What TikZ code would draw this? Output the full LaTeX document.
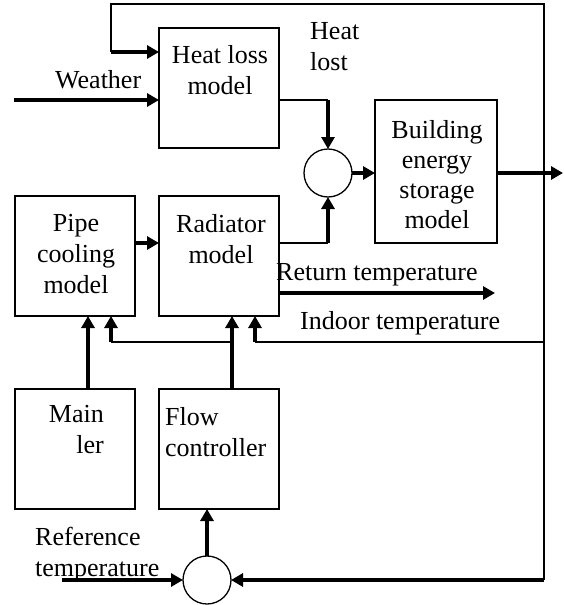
\documentclass[tikz,border=0pt]{standalone}
\usepackage{fontspec}
\setmainfont{Liberation Serif}
\usetikzlibrary{arrows.meta}

\tikzset{
  blk/.style={draw,line width=1.3pt,minimum width=120pt,minimum height=120pt,inner sep=0pt,outer sep=0pt},
  sum/.style={draw,circle,line width=1.3pt,minimum size=48pt,inner sep=0pt,outer sep=0pt},
  txt/.style={inner sep=0pt,font=\fontsize{26}{31}\selectfont},
  wire/.style={line width=1.3pt},
  sig/.style={line width=4pt,-{Triangle[length=12pt,width=13pt]}},
}

\begin{document}
\begin{tikzpicture}[x=1pt,y=-1pt]
  \useasboundingbox (0,0) rectangle (563,605);
  % Blocks, placed at their centres.
  \node[blk] (heat) at (219,88) {};
  \node[blk] (pipe) at (75,256) {};
  \node[blk] (rad) at (219,256) {};
  \node[blk,minimum width=122pt,minimum height=143pt] (bld) at (436,171.5) {};
  \node[blk] (main) at (75,449) {};
  \node[blk] (flow) at (219,449) {};
  \node[sum] (sumTop) at (328,173) {};
  \node[sum] (sumBot) at (207,580) {};
  % Texts.
  \node[txt,align=center,anchor=north] (heatTxt) at (220,45) {Heat loss\\model};
  \node[txt,align=left,anchor=north west] (lostTxt) at (310,22) {Heat\\lost};
  \node[txt,anchor=base west] (weatherTxt) at (55,88) {Weather};
  \node[txt,align=center,anchor=north,font=\fontsize{26}{30}\selectfont] (bldTxt) at (437,120) {Building\\energy\\storage\\model};
  \node[txt,align=center,anchor=north] (pipeTxt) at (76,214) {Pipe\\cooling\\model};
  \node[txt,align=center,anchor=north] (radTxt) at (221,214) {Radiator\\model};
  \node[txt,anchor=base west] (returnTxt) at (276,280) {Return temperature};
  \node[txt,anchor=base west] (indoorTxt) at (300,329) {Indoor temperature};
  \node[txt,align=right,anchor=north east] (mainTxt) at (104,405) {Main\\ler};
  \node[txt,align=left,anchor=north west] (flowTxt) at (165,407) {Flow\\controller};
  \node[txt,align=left,anchor=north west] (refTxt) at (35,527) {Reference\\temperature};
  % Free ends and corners.
  \coordinate (fbIn) at (111,52);
  \coordinate (fbTL) at (111,4);
  \coordinate (fbTR) at (544,4);
  \coordinate (fbBR) at (544,580);
  \coordinate (wIn) at (14,100);
  \coordinate (hlC) at (328,100);
  \coordinate (radC) at (328,243);
  \coordinate (bldOut) at (563,173);
  \coordinate (retEnd) at (495,293);
  \coordinate (inR) at (544,342);
  \coordinate (inC) at (255,342);
  \coordinate (flowOut) at (232,389);
  \coordinate (brR) at (232,342);
  \coordinate (brL) at (111,342);
  \coordinate (mainOut) at (88,389);
  \coordinate (refIn) at (62,580);
  % Heat loss side.
  \draw[wire] (fbIn) -- (fbTL) -- (fbTR) -- (fbBR);
  \draw[sig] (fbIn) -- (heat.west |- fbIn);
  \draw[sig] (wIn) -- (heat.west |- wIn);
  \draw[wire] (heat.east |- hlC) -- (hlC);
  \draw[sig] (hlC) -- (sumTop.north);
  \draw[wire] (rad.east |- radC) -- (radC);
  \draw[sig] (radC) -- (sumTop.south);
  \draw[sig] (sumTop.east) -- (sumTop.east -| bld.west);
  \draw[sig] (bld.east |- sumTop) -- (bldOut);
  % Radiator side.
  \draw[sig] (pipe.east |- radC) -- (rad.west |- radC);
  \draw[sig] (rad.east |- retEnd) -- (retEnd);
  \draw[wire] (inR) -- (inC);
  \draw[sig] (inC) -- (inC |- rad.south);
  \draw[sig] (flowOut) -- (flowOut |- rad.south);
  \draw[wire] (brR) -- (brL);
  \draw[sig] (brL) -- (brL |- pipe.south);
  \draw[sig] (mainOut) -- (mainOut |- pipe.south);
  % Controller loop.
  \draw[sig] (sumBot.north) -- (sumBot.north |- flow.south);
  \draw[sig] (refIn) -- (sumBot.west);
  \draw[sig] (fbBR) -- (sumBot.east);
\end{tikzpicture}
\end{document}
